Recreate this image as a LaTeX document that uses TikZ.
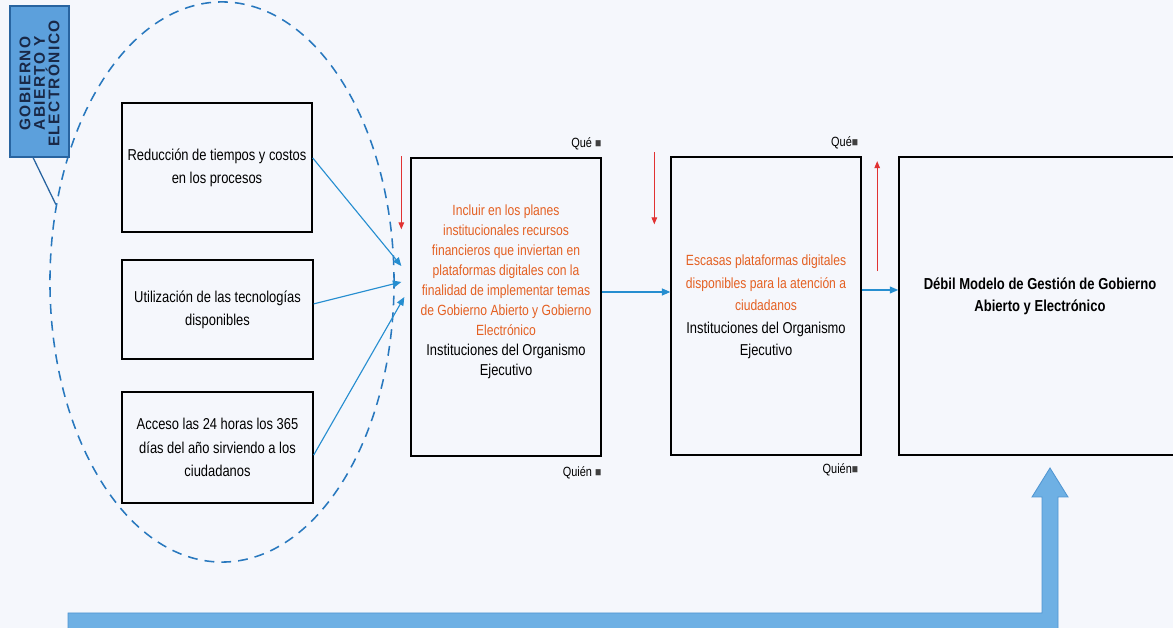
\documentclass[tikz,border=0pt]{standalone}
\usepackage{fontspec}
\setmainfont{Liberation Sans}[FakeStretch=0.82]
\newfontfamily\capsfont{Liberation Sans}[LetterSpace=9, BoldFeatures={LetterSpace=9}]
\usetikzlibrary{shapes.geometric,arrows.meta}

\definecolor{pagebg}{RGB}{245,247,252}
\definecolor{linkblue}{RGB}{38,142,208}
\definecolor{ringblue}{RGB}{40,120,190}
\definecolor{tagfill}{RGB}{92,160,220}
\definecolor{tagedge}{RGB}{40,100,160}
\definecolor{tagtext}{RGB}{25,40,70}
\definecolor{causeorange}{RGB}{228,96,34}
\definecolor{flagred}{RGB}{225,50,50}
\definecolor{bandblue}{RGB}{110,176,228}
\definecolor{bandedge}{RGB}{80,150,210}

% a line of black text inside an orange block
\newcommand{\plainline}[1]{{\fontsize{11.2}{14.6}\selectfont\color{black}#1}}
\newcommand{\sqmark}{{\fontsize{9}{9}\selectfont\color{black!75}■}}

\tikzset{
  framebox/.style={draw=black, line width=0.9pt, inner sep=0pt, align=center},
  boxtext/.style={align=center, inner sep=0pt, font=\fontsize{11.2}{16.5}\selectfont},
  causetext/.style={align=center, inner sep=0pt, text=causeorange},
  link/.style={draw=linkblue, line width=0.8pt, -{Triangle[length=6pt,width=5pt]}},
  flag/.style={draw=flagred, line width=0.7pt, -{Triangle[length=5pt,width=4pt]}},
  corner/.style={inner sep=0pt, font=\fontsize{9.5}{10}\selectfont},
}

\begin{document}
\begin{tikzpicture}[x=0.025cm, y=-0.025cm]
\useasboundingbox (0,0) rectangle (1173,628);
\clip (0,0) rectangle (1173,628);
\fill[pagebg] (0,0) rectangle (1173,628);

% group ring and its tag
\node[ellipse, draw=ringblue, line width=1.1pt, dash pattern=on 7pt off 5pt,
      minimum width=8.6cm, minimum height=14cm, inner sep=0pt] (grp) at (222,282) {};
\node[fill=tagfill, draw=tagedge, line width=0.9pt, minimum width=1.475cm,
      minimum height=3.775cm, inner sep=0pt] (tag) at (39.5,81.5) {};
\node[rotate=90, align=center, inner sep=0pt, text=tagtext,
      font=\capsfont\bfseries\fontsize{11}{10.3}\selectfont] (tagtxt) at ([yshift=-0.05cm]tag.center)
  {GOBIERNO\\ABIERTO Y\\ELECTRÓNICO};
\draw[tagedge, line width=0.9pt] ([xshift=-0.16cm]tag.south) -- (grp.155);

% factors
\node[framebox, boxtext, minimum width=4.75cm, minimum height=3.225cm] (f1) at (217,167.5)
  {Reducción de tiempos y costos\\en los procesos};
\node[framebox, boxtext, minimum width=4.775cm, minimum height=2.475cm] (f2) at (217.5,309.5)
  {Utilización de las tecnologías\\disponibles};
\node[framebox, boxtext, minimum width=4.775cm, minimum height=2.775cm] (f3) at (217.5,447.5)
  {Acceso las 24 horas los 365\\días del año sirviendo a los\\ciudadanos};

% chain of boxes
\node[framebox, minimum width=4.75cm, minimum height=7.45cm] (A) at (506,307) {};
\node[causetext, font=\fontsize{10.5}{14.2}\selectfont] (Atxt) at (506,292)
  {Incluir en los planes\\institucionales recursos\\financieros que inviertan en\\
   plataformas digitales con la\\finalidad de implementar temas\\
   de Gobierno Abierto y Gobierno\\Electrónico\\
   \plainline{Instituciones del Organismo}\\\plainline{Ejecutivo}};

\node[framebox, minimum width=4.75cm, minimum height=7.45cm] (B) at (766,306) {};
\node[causetext, font=\fontsize{10.5}{16}\selectfont] (Btxt) at (766,307)
  {Escasas plataformas digitales\\disponibles para la atención a\\ciudadanos\\
   \plainline{Instituciones del Organismo}\\\plainline{Ejecutivo}};

\node[framebox, line width=1.1pt, minimum width=7.3cm, minimum height=7.45cm] (C) at (1045,306) {};
\node[boxtext, font=\fontsize{11.3}{15.6}\selectfont\bfseries] (Ctxt) at (1040,296)
  {Débil Modelo de Gestión de Gobierno\\Abierto y Electrónico};

% corner tags
\node[corner, anchor=east] (qA) at ([yshift=0.33cm]A.north east) {Qué \sqmark};
\node[corner, anchor=east] (wA) at ([yshift=-0.4cm]A.south east) {Quién \sqmark};
\node[corner, anchor=east] (qB) at ([yshift=0.33cm,xshift=-0.08cm]B.north east) {Qué\sqmark};
\node[corner, anchor=east] (wB) at ([yshift=-0.35cm,xshift=-0.08cm]B.south east) {Quién\sqmark};

% factor links
\draw[link] ([yshift=0.24cm]f1.east) -- ([xshift=-0.225cm,yshift=1.025cm]A.west);
\draw[link] ([yshift=0.14cm]f2.east) -- ([xshift=-0.225cm,yshift=0.625cm]A.west);
\draw[link] ([yshift=-0.19cm]f3.east) -- ([xshift=-0.15cm,yshift=0.25cm]A.west);

% chain links
\draw[link] ([yshift=0.375cm]A.east) coordinate (a1) -- (a1 -| B.west);
\draw[link] ([yshift=0.4cm]B.east) coordinate (b1) -- (b1 -| C.west);

% red markers
\coordinate (rA1) at ([xshift=-0.225cm,yshift=0.025cm]A.north west);
\coordinate (rA2) at ([xshift=-0.225cm,yshift=-1.8cm]A.north west);
\coordinate (rB1) at ([xshift=-0.4cm,yshift=0.1cm]B.north west);
\coordinate (rB2) at ([xshift=-0.4cm,yshift=-1.7cm]B.north west);
\coordinate (rC1) at ([xshift=-0.525cm,yshift=-2.875cm]C.north west);
\coordinate (rC2) at ([xshift=-0.525cm,yshift=-0.125cm]C.north west);
\draw[flag] (rA1) -- (rA2);
\draw[flag] (rB1) -- (rB2);
\draw[flag] (rC1) -- (rC2);

% feedback band
\filldraw[fill=bandblue, draw=bandedge, line width=0.6pt]
  (68,613) -- (1042,613) -- (1042,497) -- (1032,497) -- (1050,468)
  -- (1068,497) -- (1058,497) -- (1058,640) -- (68,640) -- cycle;
\end{tikzpicture}
\end{document}
